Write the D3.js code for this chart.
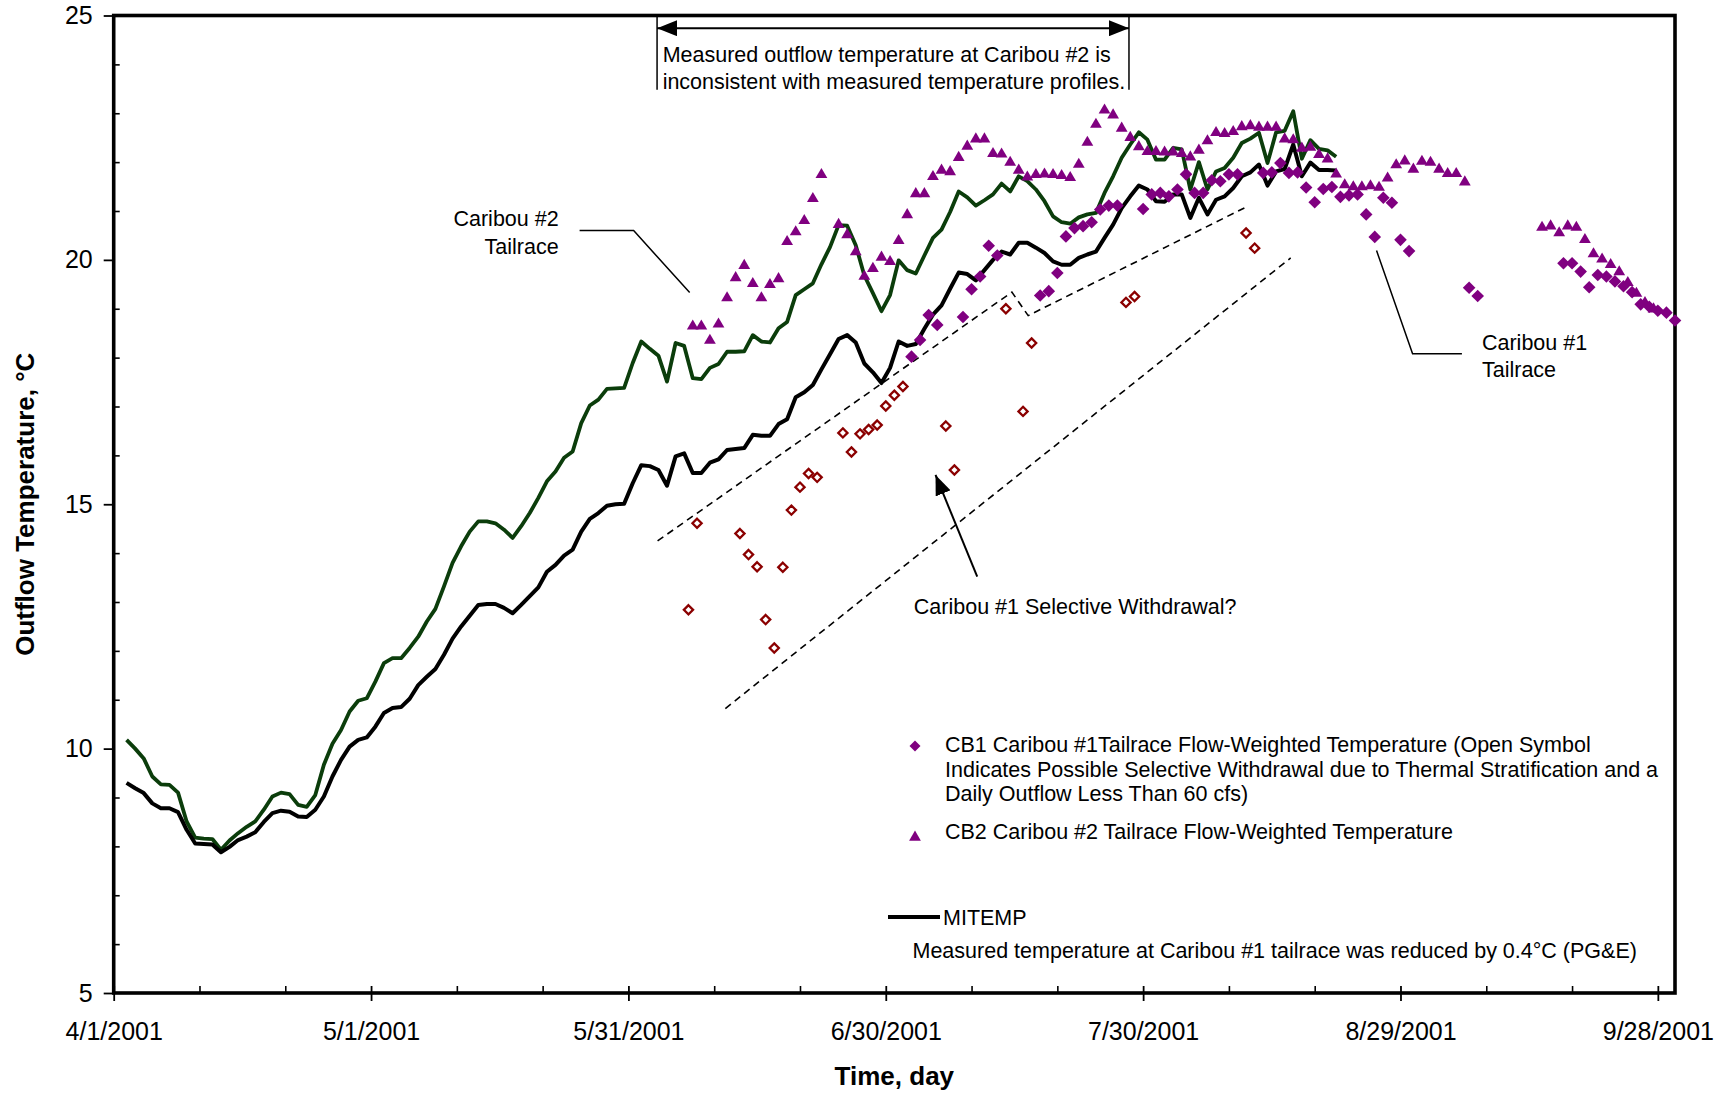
<!DOCTYPE html>
<html><head><meta charset="utf-8">
<script src="https://cdn.jsdelivr.net/npm/d3@7"></script>
<style>
body{margin:0;background:#fff}
svg{display:block;background:#fff}
text{font-family:"Liberation Sans",Arial,Helvetica,sans-serif;fill:#000}
</style>
</head><body>
<svg id="chart" width="1731" height="1094"></svg>
<script>
// ---------------- DATA ----------------
const xTickLabels = ["4/1/2001","5/1/2001","5/31/2001","6/30/2001","7/30/2001","8/29/2001","9/28/2001"];
const yTickLabels = [5, 10, 15, 20, 25];

// MITEMP Caribou #1 tailrace (black line), daily from 4/2/2001
const mitempCB1Start = "2001-04-02";
const mitempCB1 = [9.30,9.19,9.09,8.88,8.78,8.78,8.70,8.34,8.06,8.05,
 8.04,7.88,7.99,8.13,8.20,8.29,8.50,8.68,8.73,8.71,
 8.61,8.60,8.75,9.02,9.43,9.77,10.04,10.18,10.23,10.45,
 10.73,10.83,10.85,11.02,11.30,11.47,11.63,11.92,12.25,12.50,
 12.72,12.94,12.96,12.96,12.88,12.77,12.94,13.12,13.30,13.62,
 13.76,13.95,14.07,14.44,14.70,14.82,14.97,15.00,15.01,15.43,
 15.80,15.78,15.70,15.38,15.98,16.04,15.64,15.64,15.85,15.92,
 16.11,16.13,16.15,16.42,16.40,16.40,16.64,16.74,17.19,17.29,
 17.44,17.76,18.07,18.38,18.46,18.31,17.88,17.70,17.48,17.79,
 18.33,18.24,18.28,18.59,18.88,19.07,19.41,19.74,19.71,19.58,
 19.79,20.00,20.17,20.11,20.35,20.35,20.25,20.14,19.97,19.90,
 19.90,20.04,20.11,20.17,20.45,20.72,21.06,21.30,21.52,21.44,
 21.20,21.19,21.34,21.34,20.86,21.27,20.93,21.23,21.30,21.47,
 21.71,21.79,21.95,21.52,21.81,21.86,22.36,21.71,21.99,21.84,
 21.84,21.83];

// MITEMP Caribou #2 tailrace (dark green line), daily from 4/2/2001
const mitempCB2Start = "2001-04-02";
const mitempCB2 = [10.18,10.00,9.80,9.43,9.27,9.26,9.10,8.51,8.18,8.16,
 8.15,7.93,8.12,8.27,8.40,8.51,8.75,9.02,9.10,9.07,
 8.85,8.81,9.05,9.67,10.10,10.38,10.76,10.98,11.03,11.37,
 11.75,11.85,11.85,12.06,12.29,12.60,12.86,13.32,13.80,14.14,
 14.44,14.65,14.65,14.61,14.48,14.31,14.55,14.82,15.13,15.47,
 15.67,15.95,16.08,16.66,17.02,17.14,17.36,17.37,17.38,17.89,
 18.33,18.18,18.04,17.51,18.30,18.24,17.58,17.56,17.79,17.87,
 18.12,18.12,18.13,18.46,18.33,18.31,18.60,18.73,19.28,19.40,
 19.52,19.91,20.26,20.71,20.70,20.30,19.68,19.32,18.95,19.28,
 19.99,19.79,19.72,20.09,20.45,20.62,20.98,21.40,21.28,21.11,
 21.22,21.34,21.56,21.40,21.71,21.61,21.44,21.20,20.89,20.77,
 20.74,20.87,20.93,20.96,21.37,21.71,22.09,22.36,22.61,22.46,
 22.05,22.05,22.29,22.26,21.44,22.00,21.44,21.81,21.88,22.09,
 22.39,22.48,22.60,21.98,22.61,22.64,23.04,22.07,22.45,22.27,
 22.24,22.11];

// CB2 Caribou #2 tailrace measured (triangles), daily from 6/7/2001, null = no data
const cb2Start = "2001-06-07";
const cb2Values = [18.67,18.67,18.38,18.71,19.25,19.66,19.91,19.54,19.25,19.52,
 19.64,20.40,20.60,20.83,21.28,21.77,null,20.75,20.54,20.19,
 19.69,19.85,20.08,19.99,20.42,20.95,21.38,21.38,21.73,21.86,
 21.83,22.12,22.35,22.50,22.50,22.20,22.19,22.02,21.86,21.72,
 21.77,21.78,21.77,21.75,21.71,21.98,22.43,22.80,23.09,22.99,
 22.72,22.53,22.34,22.24,22.24,22.23,22.23,22.20,22.13,22.27,
 22.46,22.63,22.61,22.65,22.75,22.77,22.74,22.74,22.74,22.50,
 22.48,22.31,22.33,22.18,22.09,21.78,21.56,21.52,21.52,21.54,
 21.51,21.70,21.97,22.05,21.88,22.04,22.02,21.88,21.79,21.79,
 21.62,null,null,null,null,null,null,null,null,20.69,
 20.72,20.58,20.72,20.69,20.44,20.15,20.04,19.93,19.78,19.56,
 19.34,19.15,19.02];

// CB1 Caribou #1 tailrace measured (filled diamonds), daily from 7/3/2001, null = no data
const cb1Start = "2001-07-03";
const cb1Values = [18.02,18.36,18.87,18.67,null,null,18.83,19.40,19.66,20.29,
 20.09,null,null,null,null,19.27,19.36,19.73,20.48,20.65,
 20.69,20.77,21.03,21.11,21.11,null,null,21.04,21.34,21.37,
 21.30,21.44,21.75,21.37,21.37,21.63,21.61,21.75,21.75,null,
 null,21.78,21.79,21.98,21.78,21.79,21.48,21.18,21.45,21.49,
 21.29,21.32,21.34,20.93,20.47,21.27,21.17,20.41,20.18,null,
 null,null,null,null,null,19.43,19.26,null,null,null,
 null,null,null,null,null,null,19.93,19.93,19.76,19.44,
 19.69,19.66,19.56,19.46,19.34,19.09,19.04,18.96,18.92,18.76];

// CB1 open symbols: possible selective withdrawal
const cb1OpenDates = ["2001-06-07","2001-06-08","2001-06-13","2001-06-14","2001-06-15","2001-06-16",
 "2001-06-17","2001-06-18","2001-06-19","2001-06-20","2001-06-21","2001-06-22","2001-06-25","2001-06-26",
 "2001-06-27","2001-06-28","2001-06-29","2001-06-30","2001-07-01","2001-07-02","2001-07-07","2001-07-08",
 "2001-07-14","2001-07-16","2001-07-17","2001-07-28","2001-07-29","2001-08-11","2001-08-12"];
const cb1OpenValues = [12.84,14.61,14.40,13.97,13.72,12.64,12.06,13.71,14.88,15.35,15.63,15.55,16.46,16.07,
 16.44,16.53,16.62,17.01,17.23,17.41,16.60,15.70,19.00,16.90,18.30,19.13,19.25,20.55,20.24];

// ---------------- CHART ----------------
const svg = d3.select("#chart");
const M = {l:113.7, r:1675, t:15.5, b:993};
const DAY = 864e5;
const t0 = Date.UTC(2001,3,1);
const parseISO = d3.utcParse("%Y-%m-%d");
const parseTick = d3.utcParse("%m/%d/%Y");

const x = d3.scaleUtc().domain([new Date(t0), new Date(Date.UTC(2001,8,30))]).range([M.l, M.r]);
const y = d3.scaleLinear().domain([5,25]).range([M.b, M.t]);
const dayAt = d => new Date(t0 + d*DAY);
const px = d => x(dayAt(d));

const daily = (start, vals, hour) => vals.map((v,i) => ({date:new Date(parseISO(start).getTime() + i*DAY + hour*36e5), v}));

const FONT = '"Liberation Sans",Arial,Helvetica,sans-serif';
const TXT = 21.5;

// Axes
const majorDates = xTickLabels.map(parseTick);
const minorDates = d3.range(0,183,10).map(dayAt).filter(d => !majorDates.some(m => +m === +d));

const gxMinor = svg.append("g").attr("transform",`translate(0,${M.b})`)
  .call(d3.axisBottom(x).tickValues(minorDates).tickSize(-7).tickFormat(""));
gxMinor.select(".domain").remove();
gxMinor.selectAll(".tick line").attr("stroke","#000").attr("stroke-width",1.6);

const gx = svg.append("g").attr("transform",`translate(0,${M.b})`)
  .call(d3.axisBottom(x).tickValues(majorDates).tickSize(8).tickFormat((d,i)=>xTickLabels[i]));
gx.attr("font-family",FONT).attr("font-size",25);
gx.select(".domain").remove();
gx.selectAll(".tick line").attr("y1",-7).attr("y2",8).attr("stroke","#000").attr("stroke-width",1.8);
gx.selectAll(".tick text").attr("y",46.5).attr("dy",null).attr("fill","#000").attr("font-size",25);

const yMinor = d3.range(5,26,1).filter(v => !yTickLabels.includes(v));
const gyMinor = svg.append("g").attr("transform",`translate(${M.l},0)`)
  .call(d3.axisLeft(y).tickValues(yMinor).tickSize(-6).tickFormat(""));
gyMinor.select(".domain").remove();
gyMinor.selectAll(".tick line").attr("stroke","#000").attr("stroke-width",1.6);

const gy = svg.append("g").attr("transform",`translate(${M.l},0)`)
  .call(d3.axisLeft(y).tickValues(yTickLabels).tickSize(10).tickPadding(11).tickFormat(d3.format("d")));
gy.attr("font-family",FONT).attr("font-size",25);
gy.select(".domain").remove();
gy.selectAll(".tick line").attr("stroke","#000").attr("stroke-width",1.8);
gy.selectAll(".tick text").attr("fill","#000").attr("font-size",25);

// Frame
svg.append("rect").attr("x",M.l).attr("y",M.t).attr("width",M.r-M.l).attr("height",M.b-M.t)
  .attr("fill","none").attr("stroke","#000").attr("stroke-width",3.6);

// Axis titles
svg.append("text").attr("x",(M.l+M.r)/2).attr("y",1085).attr("text-anchor","middle")
  .attr("font-size",26).attr("font-weight","bold").text("Time, day");
svg.append("text").attr("transform",`translate(34,${(M.t+M.b)/2}) rotate(-90)`).attr("text-anchor","middle")
  .attr("font-size",26).attr("font-weight","bold").text("Outflow Temperature, °C");

// Dashed guide lines (selective withdrawal envelope)
const dashUpper = [[63.4,14.25],[104.7,19.34],[106.6,18.86],[132.0,21.08]];
const dashLower = [[71.3,10.82],[137.2,20.04]];
const pline = d3.line().x(d=>px(d[0])).y(d=>y(d[1]));
[dashUpper, dashLower].forEach(p => svg.append("path").attr("d",pline(p))
  .attr("fill","none").attr("stroke","#000").attr("stroke-width",1.6).attr("stroke-dasharray","7,5"));

// Lines
const line = d3.line().defined(d=>d.v!=null).x(d=>x(d.date)).y(d=>y(d.v));
svg.append("path").datum(daily(mitempCB2Start, mitempCB2, 12)).attr("d",line)
  .attr("fill","none").attr("stroke","#0b3d0b").attr("stroke-width",3.8).attr("stroke-linejoin","round");
svg.append("path").datum(daily(mitempCB1Start, mitempCB1, 12)).attr("d",line)
  .attr("fill","none").attr("stroke","#000").attr("stroke-width",4).attr("stroke-linejoin","round");

// Markers
const triPath = "M0,-5.4 L5.9,4.7 L-5.9,4.7 Z";
const diaPath = r => `M0,${-r} L${r},0 L0,${r} L${-r},0 Z`;
const PURPLE = "#800080";

svg.append("g").selectAll("path").data(daily(cb2Start, cb2Values, 12).filter(d=>d.v!=null)).join("path")
  .attr("d",triPath).attr("transform",d=>`translate(${x(d.date)},${y(d.v)})`).attr("fill",PURPLE);

svg.append("g").selectAll("path").data(daily(cb1Start, cb1Values, 0).filter(d=>d.v!=null)).join("path")
  .attr("d",diaPath(6.3)).attr("transform",d=>`translate(${x(d.date)},${y(d.v)})`).attr("fill",PURPLE);

svg.append("g").selectAll("path").data(cb1OpenDates.map((s,i)=>({date:parseISO(s), v:cb1OpenValues[i]}))).join("path")
  .attr("d",diaPath(4.6)).attr("transform",d=>`translate(${x(d.date)},${y(d.v)})`)
  .attr("fill","#fff").attr("stroke","#8b0000").attr("stroke-width",2.3);

// Arrow marker defs
const defs = svg.append("defs");
defs.append("marker").attr("id","ah").attr("viewBox","0 0 20 16").attr("refX",20).attr("refY",8)
  .attr("markerWidth",20).attr("markerHeight",16).attr("markerUnits","userSpaceOnUse").attr("orient","auto-start-reverse")
  .append("path").attr("d","M0,0 L20,8 L0,16 Z").attr("fill","#000");

// Top annotation
const topY = 24.74;
const xa = px(63.34), xb = px(118.35);
svg.append("line").attr("x1",xa).attr("x2",xa).attr("y1",y(25)).attr("y2",y(23.48)).attr("stroke","#000").attr("stroke-width",1.5);
svg.append("line").attr("x1",xb).attr("x2",xb).attr("y1",y(25)).attr("y2",y(23.48)).attr("stroke","#000").attr("stroke-width",1.5);
svg.append("line").attr("x1",xa).attr("x2",xb).attr("y1",y(topY)).attr("y2",y(topY))
  .attr("stroke","#000").attr("stroke-width",2).attr("marker-start","url(#ah)").attr("marker-end","url(#ah)");
const topText = svg.append("text").attr("font-size",TXT);
topText.append("tspan").attr("x",px(63.99)).attr("y",y(24.04)).text("Measured outflow temperature at Caribou #2 is");
topText.append("tspan").attr("x",px(63.99)).attr("y",y(23.50)).text("inconsistent with measured temperature profiles.");

// Caribou #2 Tailrace label
const c2 = svg.append("text").attr("font-size",TXT).attr("text-anchor","end");
c2.append("tspan").attr("x",px(51.87)).attr("y",y(20.69)).text("Caribou #2");
c2.append("tspan").attr("x",px(51.87)).attr("y",y(20.13)).text("Tailrace");
svg.append("path").attr("d",pline([[54.31,20.60],[60.61,20.60],[67.14,19.33]]))
  .attr("fill","none").attr("stroke","#000").attr("stroke-width",1.5);

// Caribou #1 Tailrace label
const c1 = svg.append("text").attr("font-size",TXT);
c1.append("tspan").attr("x",px(159.5)).attr("y",y(18.15)).text("Caribou #1");
c1.append("tspan").attr("x",px(159.5)).attr("y",y(17.60)).text("Tailrace");
svg.append("path").attr("d",pline([[147.21,20.19],[151.41,18.08],[157.16,18.08]]))
  .attr("fill","none").attr("stroke","#000").attr("stroke-width",1.5);

// Selective withdrawal annotation
svg.append("text").attr("font-size",TXT).attr("x",px(93.27)).attr("y",y(12.76)).text("Caribou #1 Selective Withdrawal?");
svg.append("line").attr("x1",px(100.66)).attr("y1",y(13.52)).attr("x2",px(95.8)).attr("y2",y(15.6))
  .attr("stroke","#000").attr("stroke-width",2).attr("marker-end","url(#ah)");

// Legend
const lg = svg.append("g").attr("font-size",TXT);
lg.append("path").attr("d",diaPath(5.5)).attr("transform","translate(915,746)").attr("fill",PURPLE);
const l1 = lg.append("text");
l1.append("tspan").attr("x",945).attr("y",752).text("CB1 Caribou #1Tailrace Flow-Weighted Temperature (Open Symbol");
l1.append("tspan").attr("x",945).attr("y",776.5).text("Indicates Possible Selective Withdrawal due to Thermal Stratification and a");
l1.append("tspan").attr("x",945).attr("y",801).text("Daily Outflow Less Than 60 cfs)");
lg.append("path").attr("d",triPath).attr("transform","translate(915,836)").attr("fill",PURPLE);
lg.append("text").attr("x",945).attr("y",839).text("CB2 Caribou #2 Tailrace Flow-Weighted Temperature");
lg.append("line").attr("x1",888).attr("x2",940).attr("y1",917).attr("y2",917).attr("stroke","#000").attr("stroke-width",4);
lg.append("text").attr("x",943).attr("y",925).text("MITEMP");
lg.append("text").attr("x",912.5).attr("y",958).text("Measured temperature at Caribou #1 tailrace was reduced by 0.4°C (PG&E)");
</script>
</body></html>
